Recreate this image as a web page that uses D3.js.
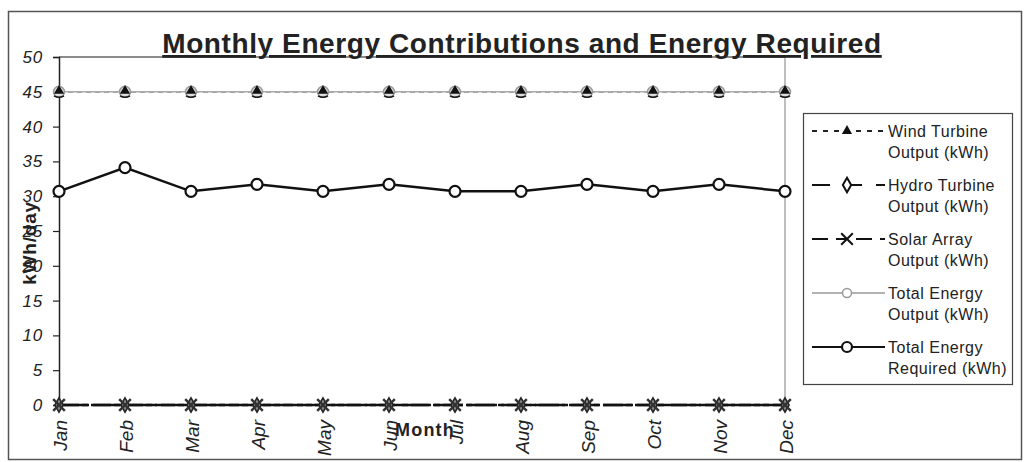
<!DOCTYPE html>
<html><head><meta charset="utf-8">
<script src="https://cdn.jsdelivr.net/npm/d3@7"></script>
<style>body{margin:0;background:#fff}svg{display:block}text{font-family:"Liberation Sans",Arial,sans-serif}</style>
</head><body><svg id="c" width="1026" height="462"></svg>
<script>
const months = ["Jan","Feb","Mar","Apr","May","Jun","Jul","Aug","Sep","Oct","Nov","Dec"];
const windOut = [45,45,45,45,45,45,45,45,45,45,45,45];
const hydroOut = [0,0,0,0,0,0,0,0,0,0,0,0];
const solarOut = [0,0,0,0,0,0,0,0,0,0,0,0];
const totalOut = [45,45,45,45,45,45,45,45,45,45,45,45];
const totalReq = [30.7,34.1,30.7,31.7,30.7,31.7,30.7,30.7,31.7,30.7,31.7,30.7];
const yTicks = [0,5,10,15,20,25,30,35,40,45,50];
const legendLabels = [["Wind Turbine","Output (kWh)"],["Hydro Turbine","Output (kWh)"],["Solar Array","Output (kWh)"],["Total Energy","Output (kWh)"],["Total Energy","Required (kWh)"]];

const svg = d3.select("#c");
const L=59,R=785,T=57,B=405;
const x = d3.scalePoint().domain(months).range([L,R]);
const y = d3.scaleLinear().domain([0,50]).range([B,T]);
const FF = "Liberation Sans, Arial, sans-serif";

// outer frame
svg.append("rect").attr("x",8.5).attr("y",11.5).attr("width",1013).attr("height",448)
  .attr("fill","none").attr("stroke","#555").attr("stroke-width",1.5);

// plot frame: top gridline and right edge
svg.append("line").attr("x1",L).attr("x2",R).attr("y1",y(50)).attr("y2",y(50)).attr("stroke","#666").attr("stroke-width",1.5);
svg.append("line").attr("x1",R).attr("x2",R).attr("y1",T).attr("y2",B).attr("stroke","#aaa").attr("stroke-width",1.5);

// y axis
const ya = svg.append("g").attr("transform",`translate(${L},0)`)
  .call(d3.axisLeft(y).tickValues(yTicks).tickSize(6).tickPadding(10));
ya.select(".domain").attr("stroke","#222").attr("stroke-width",1.5);
ya.selectAll(".tick line").attr("stroke","#222").attr("stroke-width",1.2);
ya.selectAll("text").attr("font-size",17).attr("font-style","italic").attr("fill","#222")
  .attr("font-family",FF).attr("letter-spacing",0.8);

// x axis
const xa = svg.append("g").attr("transform",`translate(0,${B})`)
  .call(d3.axisBottom(x).tickSize(0).tickPadding(0));
xa.select(".domain").remove();
xa.selectAll("text").attr("font-size",19).attr("font-style","italic").attr("fill","#222")
  .attr("font-family",FF)
  .attr("transform","rotate(-90)").attr("text-anchor","end").attr("dy","0.36em").attr("y",1).attr("x",-15);

// title
svg.append("text").attr("x",522).attr("y",53).attr("text-anchor","middle")
  .attr("font-size",28).attr("font-weight","bold").attr("fill","#222").attr("letter-spacing",0.6)
  .attr("text-decoration","underline").text("Monthly Energy Contributions and Energy Required");

// axis titles
svg.append("text").attr("transform","translate(36,243) rotate(-90)").attr("text-anchor","middle")
  .attr("font-size",19).attr("font-weight","bold").attr("fill","#222").attr("letter-spacing",0.8).text("kWh/day");
svg.append("text").attr("x",425).attr("y",436).attr("text-anchor","middle")
  .attr("font-size",18).attr("font-weight","bold").attr("fill","#222").attr("letter-spacing",1.2).text("Month");

const line = d3.line().x((d,i)=>x(months[i])).y(d=>y(d));

// symbols
const tri = d3.symbol().type(d3.symbolTriangle).size(45);
const dia = d3.symbol().type(d3.symbolDiamond).size(60);
const cross = d3.symbol().type(d3.symbolX).size(90);

function drawSeries(vals, style){
  svg.append("path").datum(vals).attr("d",line).attr("fill","none")
    .attr("stroke",style.color).attr("stroke-width",style.w).attr("stroke-dasharray",style.dash||null);
}
function markers(vals, fn){
  const g = svg.append("g");
  vals.forEach((v,i)=>fn(g, x(months[i]), y(v)));
}

// Hydro
drawSeries(hydroOut,{color:"#111",w:2.5,dash:"30,4"});
// Solar
drawSeries(solarOut,{color:"#111",w:2.5,dash:"20,3,6,3"});
markers(hydroOut,(g,cx,cy)=>g.append("path").attr("d",dia()).attr("transform",`translate(${cx},${cy})`).attr("fill","#888").attr("stroke","#222").attr("stroke-width",1.5));
markers(solarOut,(g,cx,cy)=>g.append("path").attr("d",cross()).attr("transform",`translate(${cx},${cy})`).attr("fill","none").attr("stroke","#333").attr("stroke-width",2.5));
// Wind
drawSeries(windOut,{color:"#444",w:1.5,dash:"5,4"});
// Total output
drawSeries(totalOut,{color:"#aaa",w:1.5});
markers(totalOut,(g,cx,cy)=>g.append("circle").attr("cx",cx).attr("cy",cy).attr("r",5.5).attr("fill","#ddd").attr("stroke","#999").attr("stroke-width",1.5));
markers(windOut,(g,cx,cy)=>g.append("path").attr("d",tri()).attr("transform",`translate(${cx},${cy-1})`).attr("fill","#111"));
markers(windOut,(g,cx,cy)=>g.append("path").attr("d",`M${cx-5},${cy+4} Q${cx},${cy+7} ${cx+5},${cy+4}`).attr("fill","none").attr("stroke","#111").attr("stroke-width",1.5));
// Total required
drawSeries(totalReq,{color:"#111",w:2.5});
markers(totalReq,(g,cx,cy)=>g.append("circle").attr("cx",cx).attr("cy",cy).attr("r",5.5).attr("fill","#fff").attr("stroke","#111").attr("stroke-width",2.2));

// legend
const lg = svg.append("g");
lg.append("rect").attr("x",803.5).attr("y",113.5).attr("width",209).attr("height",271)
  .attr("fill","#fff").attr("stroke","#444").attr("stroke-width",1.2);
const styles = [
  {color:"#222",w:1.8,dash:"5,6",mk:"tri"},
  {color:"#111",w:2.2,dash:"18,14",mk:"dia"},
  {color:"#111",w:2.2,dash:"16,8,12,8",mk:"x"},
  {color:"#999",w:1.5,dash:null,mk:"circG"},
  {color:"#111",w:2.2,dash:null,mk:"circ"}
];
const entryY = [131,185,239,293,347];
legendLabels.forEach((lab,i)=>{
  const ly = entryY[i], lx1=812, lx2=885, mx=847;
  lg.append("line").attr("x1",lx1).attr("x2",lx2).attr("y1",ly).attr("y2",ly)
    .attr("stroke",styles[i].color).attr("stroke-width",styles[i].w).attr("stroke-dasharray",styles[i].dash);
  const mk = styles[i].mk;
  if(mk==="tri") lg.append("path").attr("d",tri()).attr("transform",`translate(${mx},${ly})`).attr("fill","#111");
  if(mk==="dia") lg.append("path").attr("d",dia()).attr("transform",`translate(${mx},${ly})`).attr("fill","#fff").attr("stroke","#111").attr("stroke-width",2);
  if(mk==="x") lg.append("path").attr("d",cross()).attr("transform",`translate(${mx},${ly})`).attr("stroke","#111").attr("stroke-width",2);
  if(mk==="circG") lg.append("circle").attr("cx",mx).attr("cy",ly).attr("r",4.5).attr("fill","#fff").attr("stroke","#999").attr("stroke-width",1.5);
  if(mk==="circ") lg.append("circle").attr("cx",mx).attr("cy",ly).attr("r",5).attr("fill","#fff").attr("stroke","#111").attr("stroke-width",2.2);
  lg.append("text").attr("x",888).attr("y",ly+6).attr("font-size",16).attr("letter-spacing",0.5).attr("fill","#222").text(lab[0]);
  lg.append("text").attr("x",888).attr("y",ly+27).attr("font-size",16).attr("letter-spacing",0.5).attr("fill","#222").text(lab[1]);
});
</script></body></html>
